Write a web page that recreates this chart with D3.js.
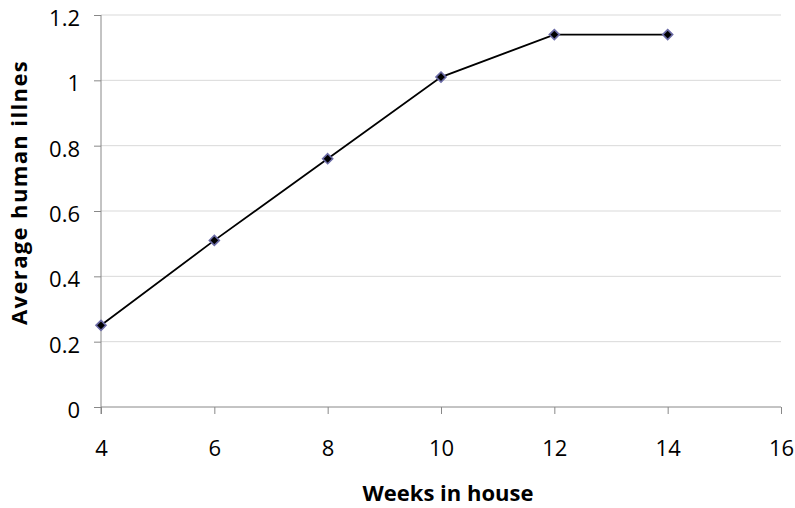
<!DOCTYPE html>
<html>
<head>
<meta charset="utf-8">
<script src="https://cdn.jsdelivr.net/npm/d3@7"></script>
<style>
  html, body { margin: 0; padding: 0; background: #fff; }
  svg { display: block; }
  text { font-family: "Open Sans", Lato, sans-serif; fill: #000; }
</style>
</head>
<body>
<svg id="chart" width="795" height="508"></svg>
<script>
// Average human illness by weeks spent in the house
const weeks = [4, 6, 8, 10, 12, 14];
const illness = [0.25, 0.51, 0.76, 1.01, 1.14, 1.14];
const xTicks = [4, 6, 8, 10, 12, 14, 16];
const yTicks = [0, 0.2, 0.4, 0.6, 0.8, 1, 1.2];

const svg = d3.select("#chart");
const plot = { left: 101, right: 781, top: 15, bottom: 407 };

const x = d3.scaleLinear().domain([4, 16]).range([plot.left, plot.right]);
const y = d3.scaleLinear().domain([0, 1.2]).range([plot.bottom, plot.top]);

// horizontal gridlines
svg.append("g")
  .selectAll("line")
  .data(yTicks.filter(d => d > 0))
  .join("line")
  .attr("x1", plot.left).attr("x2", plot.right)
  .attr("y1", d => y(d)).attr("y2", d => y(d))
  .attr("stroke", "#d9d9d9").attr("stroke-width", 1);

// y axis
const yAxis = svg.append("g")
  .attr("transform", `translate(${plot.left},0)`)
  .call(d3.axisLeft(y).tickValues(yTicks).tickSize(7).tickPadding(14)
    .tickFormat(d => d3.format("~g")(d)));
yAxis.select(".domain").attr("stroke", "#888").attr("d", `M0,${plot.top}V${plot.bottom + 7}`);
yAxis.selectAll(".tick line").attr("stroke", "#888");
yAxis.selectAll(".tick text")
  .style("font-size", "22px").attr("fill", "#000")
  .attr("dy", "0.48em");

// x axis
const xAxis = svg.append("g")
  .attr("transform", `translate(0,${plot.bottom})`)
  .call(d3.axisBottom(x).tickValues(xTicks).tickSize(7));
xAxis.select(".domain").attr("stroke", "#888").attr("d", `M${plot.left},0H${plot.right}`);
xAxis.selectAll(".tick line").attr("stroke", "#888");
xAxis.selectAll(".tick text")
  .style("font-size", "22px").attr("fill", "#000")
  .attr("dy", null).attr("y", 49);

// series line
const pts = weeks.map((w, i) => [w, illness[i]]);
svg.append("path")
  .datum(pts)
  .attr("fill", "none")
  .attr("stroke", "#000")
  .attr("stroke-width", 1.8)
  .attr("d", d3.line().x(d => x(d[0])).y(d => y(d[1])));

// diamond markers
svg.append("g")
  .selectAll("path")
  .data(pts)
  .join("path")
  .attr("transform", d => `translate(${x(d[0])},${y(d[1])})`)
  .attr("d", d3.symbol(d3.symbolDiamond2, 64)())
  .attr("fill", "#000")
  .attr("stroke", "#6b6ba6")
  .attr("stroke-width", 1.6);

// axis titles
svg.append("text")
  .attr("x", 448)
  .attr("y", 501)
  .attr("text-anchor", "middle")
  .style("font-size", "22px")
  .style("font-weight", "bold")
  .text("Weeks in house");

// y title is clipped at the top of its box
svg.append("clipPath").attr("id", "ytitle-clip")
  .append("rect").attr("x", 0).attr("y", 59).attr("width", 60).attr("height", 300);

svg.append("g").attr("clip-path", "url(#ytitle-clip)")
  .append("text")
  .attr("transform", "translate(27,325) rotate(-90)")
  .attr("textLength", 276)
  .attr("lengthAdjust", "spacing")
  .style("font-size", "22px")
  .style("font-weight", "bold")
  .text("Average human illness");
</script>
</body>
</html>
